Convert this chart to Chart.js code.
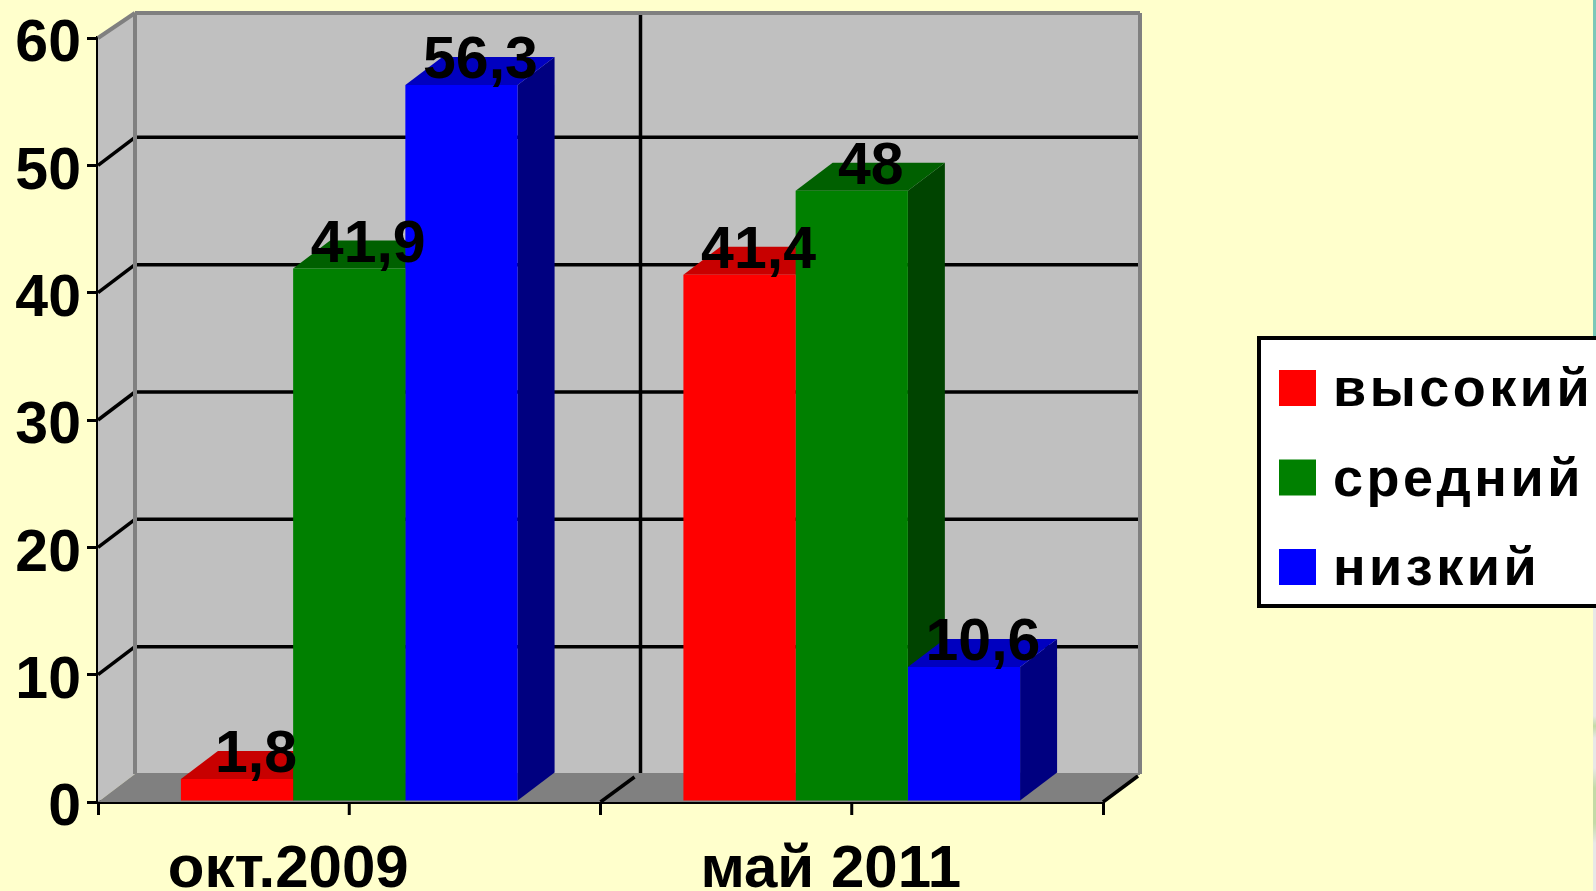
<!DOCTYPE html>
<html>
<head>
<meta charset="utf-8">
<style>
html, body { margin: 0; padding: 0; background: #FFFFCC; overflow: hidden; }
canvas { display: block; }
.edge { position: absolute; left: 1593px; width: 3px; }
#edgeTop { top: 0; height: 336px; background: #7CC8B8; }
#edgeBottom { top: 608px; height: 283px; background: linear-gradient(#E8E8E6 0, #E8E8E6 108px, #C4DAA6 118px, #E8E8E6 130px, #E8E8E6 160px, #C4DAA6 180px, #C4DAA6 215px, #E8E8E6 235px); }
</style>
<script src="https://cdn.jsdelivr.net/npm/chart.js@4"></script>
</head>
<body>
<canvas id="chart" width="1596" height="891"></canvas>
<div class="edge" id="edgeTop"></div>
<div class="edge" id="edgeBottom"></div>
<script>
var categories = ['окт.2009', 'май 2011'];
var vysokiy = [1.8, 41.4];
var sredniy = [41.9, 48];
var nizkiy = [56.3, 10.6];
var yTicks = [0, 10, 20, 30, 40, 50, 60];

var fontName = '"Liberation Sans"';
var depthX = 37;
var depthY = 28;

// front, top and side colours of each series
var faces = [
    { front: '#FF0000', top: '#C80000', side: '#800000' },
    { front: '#008000', top: '#006000', side: '#004400' },
    { front: '#0000FF', top: '#0000C0', side: '#000080' }
];

var box3d = {
    id: 'box3d',
    beforeDatasetsDraw: function (chart) {
        var ctx = chart.ctx;
        var x = chart.scales.x;
        var y = chart.scales.y;
        var left = x.left, right = x.right, top = y.top, bottom = y.bottom;
        var wallTop = top - depthY + 3;

        function poly(points, fill) {
            ctx.beginPath();
            ctx.moveTo(points[0][0], points[0][1]);
            for (var i = 1; i < points.length; i++) ctx.lineTo(points[i][0], points[i][1]);
            ctx.closePath();
            ctx.fillStyle = fill;
            ctx.fill();
        }
        function line(x1, y1, x2, y2, color, width) {
            ctx.beginPath();
            ctx.moveTo(x1, y1);
            ctx.lineTo(x2, y2);
            ctx.strokeStyle = color;
            ctx.lineWidth = width;
            ctx.stroke();
        }

        ctx.save();
        // walls and floor
        poly([[left, top], [left + depthX, wallTop], [left + depthX, bottom - depthY], [left, bottom]], '#C0C0C0');
        poly([[left + depthX, wallTop], [right + depthX, wallTop], [right + depthX, bottom - depthY], [left + depthX, bottom - depthY]], '#C0C0C0');
        poly([[left, bottom], [left + depthX, bottom - depthY], [right + depthX, bottom - depthY], [right, bottom]], '#808080');

        // grid on the walls
        yTicks.forEach(function (v) {
            if (v === 0 || v === 60) return;
            var py = y.getPixelForValue(v);
            line(left, py, left + depthX, py - depthY, '#000', 3.5);
            line(left + depthX, py - depthY, right + depthX, py - depthY, '#000', 3.5);
        });

        // category separator
        var sep = (x.getPixelForValue(0) + x.getPixelForValue(1)) / 2;
        line(sep + depthX + 3, wallTop, sep + depthX + 3, bottom - depthY, '#000', 3.5);
        line(sep, bottom, sep + depthX - 3, bottom - depthY + 3, '#000', 3.5);
        line(right, bottom, right + depthX - 2, bottom - depthY + 2, '#000', 3.5);

        // wall edges
        line(left, top, left + depthX, wallTop, '#808080', 4);
        line(left + depthX, wallTop, right + depthX, wallTop, '#808080', 4);
        line(left + depthX, wallTop, left + depthX, bottom - depthY, '#808080', 4);
        line(right + depthX, wallTop, right + depthX, bottom - depthY, '#808080', 4);
        line(left + depthX, bottom - depthY, right + depthX, bottom - depthY, '#808080', 2);

        // side and top of the bars, the fronts go over them
        chart.data.datasets.forEach(function (ds, i) {
            chart.getDatasetMeta(i).data.forEach(function (bar) {
                var p = bar.getProps(['x', 'y', 'base', 'width']);
                var l = p.x - p.width / 2, r = p.x + p.width / 2;
                poly([[r, p.y], [r + depthX, p.y - depthY], [r + depthX, p.base - depthY], [r, p.base]], faces[i].side);
                poly([[l, p.y], [l + depthX, p.y - depthY], [r + depthX, p.y - depthY], [r, p.y]], faces[i].top);
            });
        });
        ctx.restore();
    },
    afterDraw: function (chart) {
        var ctx = chart.ctx;
        var x = chart.scales.x;
        var y = chart.scales.y;
        ctx.save();

        // value labels
        ctx.fillStyle = '#000';
        ctx.font = 'bold 59px ' + fontName;
        ctx.textAlign = 'center';
        ctx.textBaseline = 'middle';
        chart.data.datasets.forEach(function (ds, i) {
            chart.getDatasetMeta(i).data.forEach(function (bar, j) {
                var text = String(ds.data[j]).replace('.', ',');
                ctx.fillText(text, bar.x + 19, bar.y - 23);
            });
        });

        // category ticks in the middle, labels sit left of them
        ctx.strokeStyle = '#000';
        ctx.lineWidth = 3;
        var labelShift = [-61, -21];
        categories.forEach(function (c, i) {
            var px = x.getPixelForValue(i);
            ctx.beginPath();
            ctx.moveTo(px, y.bottom);
            ctx.lineTo(px, y.bottom + 13);
            ctx.stroke();
            ctx.font = 'bold 60px ' + fontName;
            ctx.textBaseline = 'alphabetic';
            ctx.fillText(c, px + labelShift[i], 887);
        });

        // legend box runs off the right side of the picture
        ctx.fillStyle = '#FFF';
        ctx.fillRect(1259, 338, 340, 268);
        ctx.lineWidth = 4;
        ctx.strokeRect(1259, 338, 340, 268);
        ctx.textAlign = 'left';
        ctx.textBaseline = 'alphabetic';
        ctx.font = 'bold 54px ' + fontName;
        ctx.letterSpacing = '3.5px';
        chart.data.datasets.forEach(function (ds, i) {
            var top = 370 + i * 89.5;
            ctx.fillStyle = ds.backgroundColor;
            ctx.fillRect(1279, top, 37, 36);
            ctx.fillStyle = '#000';
            ctx.fillText(ds.label, 1333, top + 36);
        });
        ctx.restore();
    }
};

new Chart(document.getElementById('chart').getContext('2d'), {
    type: 'bar',
    data: {
        labels: categories,
        datasets: [
            { label: 'высокий', data: vysokiy, backgroundColor: faces[0].front },
            { label: 'средний', data: sredniy, backgroundColor: faces[1].front },
            { label: 'низкий', data: nizkiy, backgroundColor: faces[2].front }
        ]
    },
    options: {
        responsive: false,
        animation: false,
        layout: { padding: { top: 38, right: 493, left: 0, bottom: 0 } },
        plugins: { legend: { display: false }, tooltip: { enabled: false } },
        datasets: { bar: { categoryPercentage: 0.67, barPercentage: 1 } },
        scales: {
            x: {
                z: 1,
                afterFit: function (s) { s.height = 89; },
                grid: { offset: true, drawOnChartArea: false, color: '#000', lineWidth: 3, tickLength: 13 },
                border: { color: '#000', width: 4 },
                ticks: { display: false }
            },
            y: {
                z: 1,
                min: 0,
                max: 60,
                afterFit: function (s) {
                    s.width = 98;
                    s.paddingTop = 0;
                    s.paddingBottom = 0;
                },
                afterBuildTicks: function (s) { s.ticks = yTicks.map(function (v) { return { value: v }; }); },
                grid: { drawOnChartArea: false, color: '#000', lineWidth: 3, tickLength: 11 },
                border: { color: '#000', width: 4 },
                ticks: { color: '#000', padding: 6, labelOffset: 7, font: { family: fontName, size: 59, weight: 'bold' } }
            }
        }
    },
    plugins: [box3d]
});
</script>
</body>
</html>
